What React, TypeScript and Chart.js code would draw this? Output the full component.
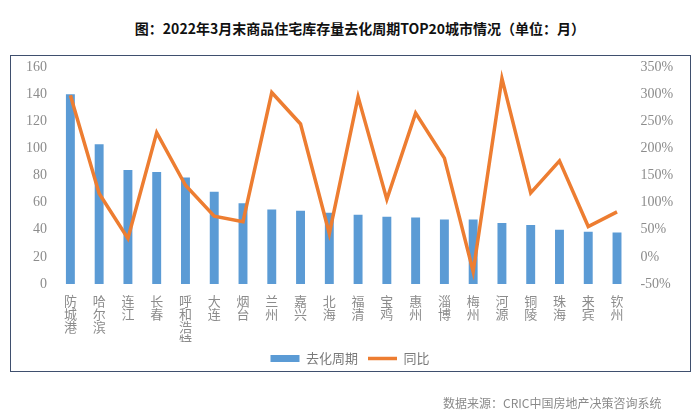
import React, { useEffect, useRef } from "react";
import { Chart, registerables } from "chart.js";

Chart.register(...registerables);

const titleText = "图：2022年3月末商品住宅库存量去化周期TOP20城市情况（单位：月）";
const sourceText = "数据来源：CRIC中国房地产决策咨询系统";
const cities = ["防城港", "哈尔滨", "连江", "长春", "呼和浩特", "大连", "烟台", "兰州", "嘉兴", "北海", "福清", "宝鸡", "惠州", "淄博", "梅州", "河源", "铜陵", "珠海", "来宾", "钦州"];
const cycleMonths = [140, 103, 84, 82.5, 78.5, 68, 59.5, 55, 54, 52.5, 51, 49.5, 49, 47.5, 47.5, 45, 43.5, 40, 38.5, 38];
const yoyPct = [298, 117, 34, 229, 132, 75, 65, 303, 245, 43, 295, 106, 265, 182, -27, 329, 118, 177, 56, 83];
const seriesNames = ["去化周期", "同比"];
const leftAxis = { min: 0, max: 160, step: 20 };
const rightAxis = { min: -50, max: 350, step: 50 };

const BAR_COLOR = "#5B9BD5";
const LINE_COLOR = "#ED7D31";
const TICK_COLOR = "#8c8c8c";
const NUM_FONT = "'Times New Roman', 'Liberation Serif', 'DejaVu Serif', serif";
const CJK_FONT = "'Noto Sans CJK SC', sans-serif";

export default function App() {
  const canvasRef = useRef<HTMLCanvasElement | null>(null);

  useEffect(() => {
    document.body.style.margin = "0";
    const canvas = canvasRef.current;
    if (!canvas) return;
    const chart = new Chart(canvas, {
      type: "bar",
      data: {
        labels: cities.map((c) => c.split("")),
        datasets: [
          {
            type: "bar",
            label: seriesNames[0],
            data: cycleMonths,
            backgroundColor: BAR_COLOR,
            borderWidth: 0,
            yAxisID: "y",
            barPercentage: 0.31,
            categoryPercentage: 1,
            order: 1,
            pointStyle: "rect",
          } as any,
          {
            type: "line",
            label: seriesNames[1],
            data: yoyPct,
            borderColor: LINE_COLOR,
            backgroundColor: LINE_COLOR,
            borderWidth: 3.5,
            pointRadius: 0,
            tension: 0,
            yAxisID: "y1",
            order: 0,
            pointStyle: "line",
          } as any,
        ],
      },
      options: {
        animation: false,
        responsive: false,
        maintainAspectRatio: false,
        layout: { padding: { left: 0, right: 0, top: 67, bottom: 42 } },
        plugins: {
          tooltip: { enabled: false },
          title: { display: false },
          legend: {
            display: true,
            position: "bottom",
            labels: {
              usePointStyle: true,
              pointStyleWidth: 29,
              boxHeight: 7,
              padding: 10,
              color: "#7a7a7a",
              font: { family: CJK_FONT, size: 13 },
              sort: (a: any, b: any) => a.datasetIndex - b.datasetIndex,
            },
          },
        },
        scales: {
          x: {
            grid: { display: false, drawTicks: false },
            border: { display: false },
            ticks: {
              color: TICK_COLOR,
              font: { family: CJK_FONT, size: 13, lineHeight: 1.02 },
              padding: 10,
              maxRotation: 0,
              minRotation: 0,
              autoSkip: false,
            },
            afterFit: (scale: any) => {
              scale.height = 58;
            },
          },
          y: {
            position: "left",
            min: leftAxis.min,
            max: leftAxis.max,
            grid: { display: false, drawTicks: false },
            border: { display: false },
            ticks: {
              stepSize: leftAxis.step,
              color: TICK_COLOR,
              font: { family: NUM_FONT, size: 14 },
              padding: 9,
            },
            afterFit: (scale: any) => {
              scale.width = 56;
            },
          },
          y1: {
            position: "right",
            min: rightAxis.min,
            max: rightAxis.max,
            grid: { display: false, drawTicks: false },
            border: { display: false },
            ticks: {
              stepSize: rightAxis.step,
              color: TICK_COLOR,
              font: { family: NUM_FONT, size: 14 },
              padding: 9,
              callback: (v: any) => `${v}%`,
            },
            afterFit: (scale: any) => {
              scale.width = 68.6;
            },
          },
        },
      },
    });
    return () => chart.destroy();
  }, []);

  return (
    <div style={{ position: "relative", width: 700, height: 417, background: "#ffffff", overflow: "hidden" }}>
      <div
        style={{
          position: "absolute",
          left: 0,
          width: 720,
          top: 18,
          textAlign: "center",
          fontFamily: "'Noto Sans CJK SC', sans-serif",
          fontWeight: 700,
          fontSize: 14,
          lineHeight: "20px",
          color: "#111111",
          whiteSpace: "nowrap",
        }}
      >
        {titleText}
      </div>
      <div
        style={{
          position: "absolute",
          left: 10,
          top: 55,
          width: 681,
          height: 317,
          border: "1.5px solid #3f4f6e",
          boxSizing: "border-box",
        }}
      />
      <canvas ref={canvasRef} width={700} height={417} style={{ position: "absolute", left: 0, top: 0, width: 700, height: 417 }} />
      <div
        style={{
          position: "absolute",
          left: 443,
          top: 394,
          fontFamily: "'Noto Sans CJK SC', sans-serif",
          fontSize: 12,
          lineHeight: "18px",
          color: "#8a8a8a",
          whiteSpace: "nowrap",
        }}
      >
        {sourceText}
      </div>
    </div>
  );
}
